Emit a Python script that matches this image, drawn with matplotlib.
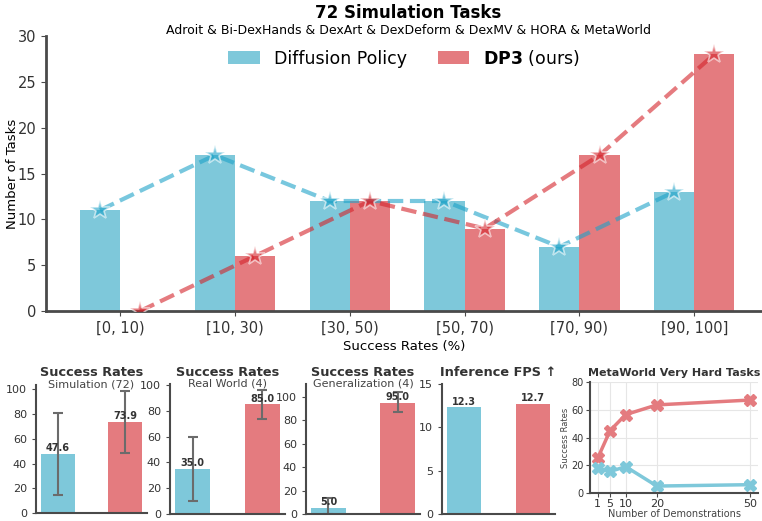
import numpy as np
import matplotlib
matplotlib.use('Agg')
import matplotlib.pyplot as plt

plt.rcParams['font.family'] = ['DejaVu Sans']

# top chart: histogram of task success rates
bins = ['[0, 10)', '[10, 30)', '[30, 50)', '[50, 70)', '[70, 90)', '[90, 100]']
dp_counts = [11, 17, 12, 12, 7, 13]
dp3_counts = [0, 6, 12, 9, 17, 28]

# bottom panels
sim_means = [47.6, 73.9]
sim_err_lo = [33, 25]
sim_err_hi = [33, 25]
real_means = [35.0, 85.0]
real_err_lo = [25, 11]
real_err_hi = [25, 11]
gen_means = [5.0, 95.0]
gen_err_lo = [5, 8]
gen_err_hi = [9, 9.5]
fps = [12.3, 12.7]

demos = [1, 5, 10, 20, 50]
hard_dp = [18, 15.5, 19, 5, 6]
hard_dp3 = [25, 45, 56.5, 63.5, 67]

blue = '#7ec8da'
red = '#e47b7f'
blue_line = '#1ea3c8'
red_line = '#d4232a'
spine_c = '#4a4a4a'
text_c = '#333333'

W, H = 762, 521
fig = plt.figure(figsize=(W / 100, H / 100), dpi=100)


def px_axes(left, top, right, bottom):
    return fig.add_axes([left / W, 1 - bottom / H, (right - left) / W, (bottom - top) / H])


def style(ax, lw=1.5):
    for s in ['top', 'right']:
        ax.spines[s].set_visible(False)
    for s in ['left', 'bottom']:
        ax.spines[s].set_color(spine_c)
        ax.spines[s].set_linewidth(lw)
    ax.tick_params(colors=spine_c, labelcolor=text_c)


# ---- top chart
ax = px_axes(46, 36, 762, 311)
style(ax, 2)
x = np.arange(len(bins))
w = 0.35
ax.bar(x - w / 2, dp_counts, w, color=blue, label='Diffusion Policy')
ax.bar(x + w / 2, dp3_counts, w, color=red, label=r'$\bf{DP3}$ (ours)')
ax.plot(x - w / 2, dp_counts, '--', color=blue_line, lw=3, alpha=0.6,
        marker='*', ms=15, mec='white', mew=1.2, zorder=3)
ax.plot(x + w / 2, dp3_counts, '--', color=red_line, lw=3, alpha=0.6,
        marker='*', ms=15, mec='white', mew=1.2, zorder=3)
ax.set_xlim(-0.645, 5.59)
ax.set_ylim(0, 30)
ax.set_xticks(x)
ax.set_xticklabels(bins, fontsize=10.5)
ax.tick_params(axis='y', labelsize=10.5)
ax.set_ylabel('Number of Tasks', fontsize=9.5, color='black')
ax.yaxis.set_label_coords(-(46 - 19) / 716, 0.5)
ax.set_xlabel('Success Rates (%)', fontsize=9.5, color='black', labelpad=3)
ax.legend(loc='upper center', bbox_to_anchor=(0.5, 1.015), ncol=2, frameon=False,
          fontsize=12.5, handlelength=1.8, handleheight=0.8, columnspacing=1.8)
fig.text(408 / W, 1 - 13 / H, '72 Simulation Tasks', ha='center', va='center',
         fontsize=12, fontweight='bold')
fig.text(408 / W, 1 - 30 / H,
         'Adroit & Bi-DexHands & DexArt & DexDeform & DexMV & HORA & MetaWorld',
         ha='center', va='center', fontsize=9)


# ---- bottom bar panels
def bar_panel(box, vals, lo, hi, ylim, title, sub, yticks, fmt='{:.1f}'):
    a = px_axes(*box)
    style(a)
    err = None if lo is None else [lo, hi]
    a.bar([0, 1], vals, 0.5, color=[blue, red], yerr=err, capsize=3.5,
          error_kw=dict(ecolor='#6b6b6b', elinewidth=1.5, capthick=1.5))
    for i, v in enumerate(vals):
        a.text(i, v + ylim * 0.005, fmt.format(v), ha='center', va='bottom',
               fontsize=7, fontweight='bold', color=text_c)
    a.set_ylim(0, ylim)
    a.set_yticks(yticks)
    a.set_xticks([])
    a.tick_params(axis='y', labelsize=8, length=3)
    top, bottom = box[1], box[3]
    h = bottom - top
    a.text(0.5, 1 + 12 / h, title, transform=a.transAxes, ha='center', va='center',
           fontsize=9.3, fontweight='bold', color=text_c)
    if sub:
        a.text(0.5, 1 + 0.5 / h, sub, transform=a.transAxes, ha='center', va='center',
               fontsize=8, color='#444444')
    return a


bar_panel((36, 385, 147, 513), sim_means, sim_err_lo, sim_err_hi, 103.5,
          'Success Rates', 'Simulation (72)', [0, 20, 40, 60, 80, 100])
bar_panel((170, 384, 285, 514), real_means, real_err_lo, real_err_hi, 100.8,
          'Success Rates', 'Real World (4)', [0, 20, 40, 60, 80, 100])
bar_panel((306, 384, 420, 514), gen_means, gen_err_lo, gen_err_hi, 111,
          'Success Rates', 'Generalization (4)', [0, 20, 40, 60, 80, 100])
bar_panel((442, 384, 555, 514), fps, None, None, 15,
          'Inference FPS ↑', None, [0, 5, 10, 15])

# ---- MetaWorld very hard tasks
a5 = px_axes(590, 382, 758, 493)
style(a5)
a5.grid(True, color='#e6e6e6', lw=0.8)
a5.set_axisbelow(True)
a5.plot(demos, hard_dp3, '-', color=red, lw=2.5, marker='X', ms=9, mec=red)
a5.plot(demos, hard_dp, '-', color=blue, lw=2.5, marker='X', ms=9, mec=blue)
a5.set_ylim(0, 80)
a5.set_yticks([0, 20, 40, 60, 80])
a5.set_xticks(demos)
a5.tick_params(labelsize=8, length=3, pad=1.5)
a5.tick_params(axis='y', labelsize=7)
a5.set_ylabel('Success Rates', fontsize=6, color='#444444', labelpad=1)
a5.set_xlabel('Number of Demonstrations', fontsize=7, color='#444444', labelpad=0)
a5.text(0.5, 1 + 9.5 / 111, 'MetaWorld Very Hard Tasks', transform=a5.transAxes,
        ha='center', va='center', fontsize=8, fontweight='bold', color=text_c)

fig.savefig('out.png', dpi=100)
